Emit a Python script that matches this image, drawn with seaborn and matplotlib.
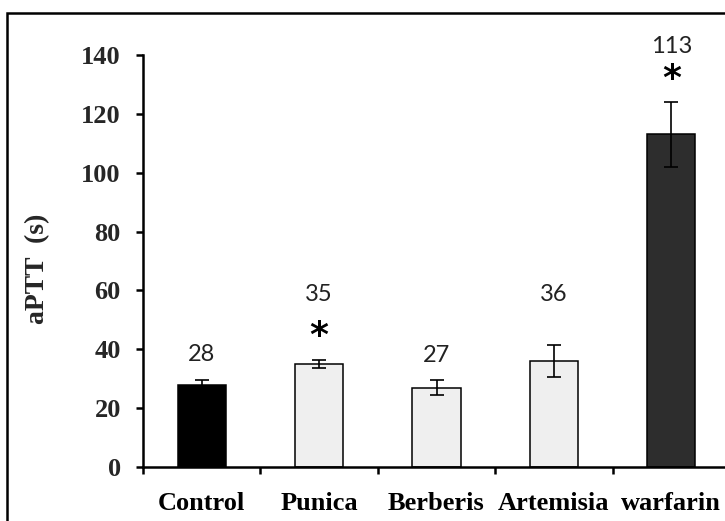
import matplotlib
matplotlib.use("Agg")
import matplotlib.pyplot as plt
import seaborn as sns
from matplotlib.patches import Rectangle
from matplotlib.ticker import FixedLocator

# aPTT clotting times per treatment group
groups = ["Control", "Punica", "Berberis", "Artemisia", "warfarin"]
aptt_mean = [28, 35, 27, 36, 113]
aptt_err = [1.5, 1.2, 2.5, 5.4, 11]
value_labels = ["28", "35", "27", "36", "113"]
significant = [False, True, False, False, True]
bar_colors = ["#000000", "#efefef", "#efefef", "#efefef", "#2d2d2d"]
y_ticks = [0, 20, 40, 60, 80, 100, 120, 140]

# layout: heights (data units) of the value labels and significance stars
label_y = [38.3, 58.5, 37.8, 58.5, 143]
star_y = [None, 44.5, None, None, 132]

sns.set_theme(style="white")
plt.rcParams["font.family"] = ["Liberation Serif", "DejaVu Serif"]

fig = plt.figure(figsize=(7.25, 5.21), dpi=100)
ax = fig.add_axes([143 / 725, 54 / 521, 587 / 725, 412 / 521])

sns.barplot(x=groups, y=aptt_mean, hue=groups, palette=bar_colors,
            legend=False, width=0.41, edgecolor="black", linewidth=1.1,
            saturation=1, ax=ax)
ax.errorbar(range(len(groups)), aptt_mean, yerr=aptt_err, fmt="none",
            ecolor="black", elinewidth=1.2, capsize=5, capthick=1.2, zorder=5)

for i, (txt, ly) in enumerate(zip(value_labels, label_y)):
    ax.text(i, ly, txt, ha="center", va="center", fontsize=17,
            family=["Lato", "DejaVu Sans"], color="#222222")
    if significant[i]:
        ax.text(i, star_y[i], "*", ha="center", va="center", fontsize=26,
                fontweight="bold", family=["DejaVu Sans"], color="black")

ax.set_xlim(-0.5, len(groups) - 0.5)
ax.set_ylim(0, 140)
ax.set_yticks(y_ticks)
ax.set_yticklabels([str(t) for t in y_ticks], fontsize=19, fontweight="bold")
ax.set_xticks(range(len(groups)))
ax.set_xticklabels(groups, fontsize=19, fontweight="bold")
ax.xaxis.set_minor_locator(FixedLocator([-0.5, 0.5, 1.5, 2.5, 3.5]))

ax.tick_params(axis="x", which="major", length=0, pad=18, colors="black")
ax.tick_params(axis="x", which="minor", direction="out", length=5,
               width=1.8, color="black", bottom=True)
ax.tick_params(axis="y", direction="out", length=5, width=1.8, pad=11,
               color="black", left=True)

for side in ("top", "right"):
    ax.spines[side].set_visible(False)
for side in ("left", "bottom"):
    ax.spines[side].set_linewidth(1.8)
    ax.spines[side].set_color("black")
    ax.spines[side].set_clip_on(False)

ax.set_xlabel("")
ax.set_ylabel("aPTT  (s)", fontsize=20, fontweight="bold")
ax.yaxis.set_label_coords(-0.158, 0.48)

# outer frame
fig.patches.append(Rectangle((7 / 725, -0.1), 1.2, (521 - 13) / 521 + 0.1,
                             transform=fig.transFigure, fill=False,
                             edgecolor="black", linewidth=1.8))

fig.savefig("out.png", dpi=100)
